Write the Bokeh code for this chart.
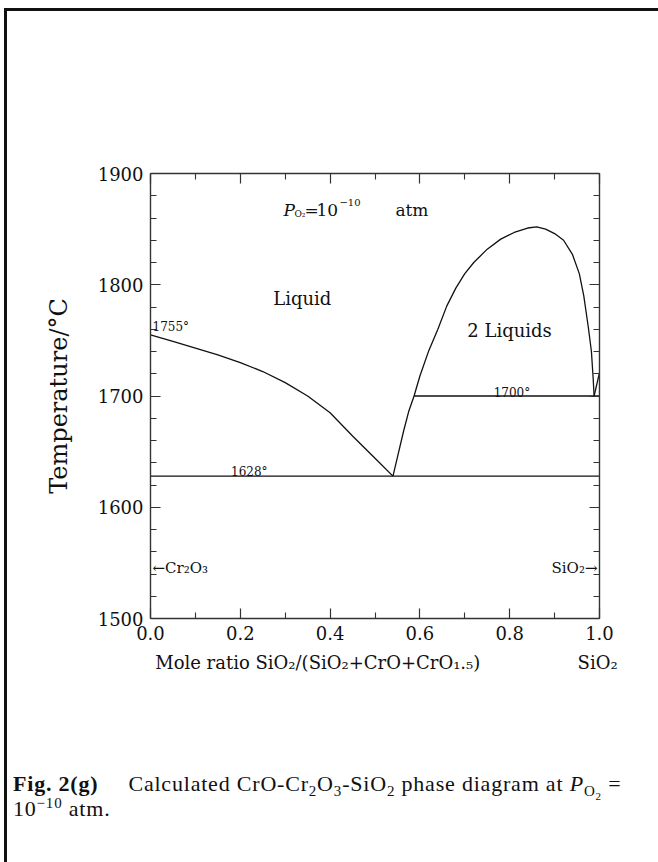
from bokeh.plotting import figure
from bokeh.models import LinearAxis, Label, FixedTicker, Range1d, Div
from bokeh.layouts import column
from bokeh.embed import file_html
from bokeh.resources import INLINE

# ---------------- data ----------------
cr2o3_liquidus_x = [0.00, 0.05, 0.10, 0.15, 0.20, 0.25, 0.30, 0.35, 0.40, 0.45, 0.50, 0.54]
cr2o3_liquidus_t = [1755, 1749, 1743, 1737, 1730, 1722, 1712, 1700, 1685, 1664, 1644, 1628]

sio2_liquidus_x = [0.540, 0.550, 0.564, 0.575, 0.587]
sio2_liquidus_t = [1628, 1645, 1669, 1686, 1700]

gap_x = [0.587, 0.600, 0.620, 0.640, 0.660, 0.680, 0.700, 0.720, 0.750, 0.780, 0.810,
         0.840, 0.860, 0.880, 0.900, 0.920, 0.940, 0.955, 0.965, 0.975, 0.982, 0.986, 0.988]
gap_t = [1700, 1718, 1741, 1760, 1781, 1797, 1810, 1820, 1832, 1841, 1847,
         1851, 1852, 1850, 1846, 1840, 1827, 1810, 1790, 1762, 1740, 1715, 1700]

sio2_upper_x = [0.988, 1.000]
sio2_upper_t = [1700, 1721]

eutectic_x = [0.0, 1.0]
eutectic_t = [1628, 1628]
monotectic_x = [0.587, 1.0]
monotectic_t = [1700, 1700]

x_major = [0.0, 0.2, 0.4, 0.6, 0.8, 1.0]
x_minor = [0.1, 0.3, 0.5, 0.7, 0.9]
x_labels = ["0.0", "0.2", "0.4", "0.6", "0.8", "1.0"]
y_major = [1500, 1600, 1700, 1800, 1900]
y_minor = [1520, 1540, 1560, 1580, 1620, 1640, 1660, 1680, 1720, 1740,
           1760, 1780, 1820, 1840, 1860, 1880]
y_labels = ["1500", "1600", "1700", "1800", "1900"]

SERIF = "DejaVu Serif"
INK = "#111111"
NB = "\u00a0"

p = figure(width=651, height=671, output_backend="svg", toolbar_location=None,
           x_range=Range1d(0, 1), y_range=Range1d(1500, 1900),
           min_border_left=143, min_border_right=59,
           min_border_top=162, min_border_bottom=64)
p.grid.visible = False
p.outline_line_color = None


def style_axis(ax, ticks, minor, labels, show_labels):
    ax.ticker = FixedTicker(ticks=ticks, minor_ticks=minor)
    ax.major_tick_in = 10
    ax.major_tick_out = 0
    ax.minor_tick_in = 6
    ax.minor_tick_out = 0
    ax.axis_line_color = "#333333"
    ax.axis_line_width = 1.4
    ax.major_tick_line_color = "#333333"
    ax.minor_tick_line_color = "#333333"
    ax.major_tick_line_width = 1.2
    ax.minor_tick_line_width = 1.1
    if show_labels:
        ax.major_label_overrides = dict(zip(ticks, labels))
        ax.major_label_text_font = SERIF
        ax.major_label_text_font_size = "18px"
        ax.major_label_text_color = INK
    else:
        ax.major_label_overrides = {t: "" for t in ticks}


style_axis(p.xaxis[0], x_major, x_minor, x_labels, True)
p.xaxis[0].major_label_standoff = 7
p.xaxis[0].axis_label = (NB * 4 + "Mole ratio SiO₂/(SiO₂+CrO+CrO₁.₅)" + NB * 17 + "SiO₂")
p.xaxis[0].axis_label_text_font = SERIF
p.xaxis[0].axis_label_text_font_style = "normal"
p.xaxis[0].axis_label_text_font_size = "18px"
p.xaxis[0].axis_label_text_color = INK
p.xaxis[0].axis_label_standoff = 9

style_axis(p.yaxis[0], y_major, y_minor, y_labels, True)
p.yaxis[0].major_label_standoff = 7
p.yaxis[0].axis_label = "Temperature/°C"
p.yaxis[0].axis_label_text_font = SERIF
p.yaxis[0].axis_label_text_font_style = "normal"
p.yaxis[0].axis_label_text_font_size = "24px"
p.yaxis[0].axis_label_text_color = INK
p.yaxis[0].axis_label_standoff = 22

top_ax = LinearAxis()
style_axis(top_ax, x_major, x_minor, x_labels, False)
p.add_layout(top_ax, "above")
right_ax = LinearAxis()
style_axis(right_ax, y_major, y_minor, y_labels, False)
p.add_layout(right_ax, "right")

# ---------------- phase boundaries ----------------
lw = 1.3
p.line(cr2o3_liquidus_x, cr2o3_liquidus_t, line_color=INK, line_width=lw)
p.line(sio2_liquidus_x, sio2_liquidus_t, line_color=INK, line_width=lw)
p.line(gap_x, gap_t, line_color=INK, line_width=lw)
p.line(sio2_upper_x, sio2_upper_t, line_color=INK, line_width=lw)
p.line(eutectic_x, eutectic_t, line_color=INK, line_width=lw)
p.line(monotectic_x, monotectic_t, line_color=INK, line_width=lw)


def lab(fig, text, x, y, xo=0, yo=0, font=SERIF, size="16px", align="left",
        baseline="alphabetic", style="normal"):
    fig.add_layout(Label(x=x, y=y, x_offset=xo, y_offset=yo, text=text,
                         text_font=font, text_font_size=size, text_align=align,
                         text_baseline=baseline, text_font_style=style,
                         text_color=INK))


# in-plot annotations
lab(p, "1755°", 0.0, 1755, xo=2, yo=8, size="12px")
lab(p, "1628°", 0.22, 1628, yo=4, size="12px", align="center")
lab(p, "1700°", 0.805, 1700, yo=3, size="12px", align="center")
lab(p, "Liquid", 0.338, 1788, size="18px", align="center", baseline="middle")
lab(p, "2  Liquids", 0.806, 1759, size="18px", align="center", baseline="middle")
lab(p, "←Cr₂O₃", 0.0, 1545, xo=2, size="15px", baseline="middle")
lab(p, "SiO₂→", 1.0, 1545, xo=-2, size="15px", align="right", baseline="middle")

# P_O2 = 10^-10 atm
px, pt = 0.296, 1867
lab(p, "P", px, pt, size="17px", style="italic")
lab(p, "O₂", px, pt, xo=11, yo=-4, size="9px")
lab(p, "=", px, pt, xo=21, size="17px")
lab(p, "10", px, pt, xo=33, size="17px")
lab(p, "−10", px, pt, xo=56, yo=8, size="10px")
lab(p, "atm", px, pt, xo=112, size="17px")

# ---------------- caption (HTML strip below the chart) ----------------
sub = 'style="font-size:15px;line-height:0"'
sub2 = 'style="font-size:11px;line-height:0"'
caption_html = (
    '<div style="padding:84px 0 0 1px;font-family:\'Liberation Serif\',serif;'
    'font-size:22px;line-height:25px;letter-spacing:0.8px;color:#111;white-space:nowrap">'
    '<b>Fig. 2(g)</b><span style="margin-left:30px">Calculated CrO-Cr'
    f'<sub {sub}>2</sub>O<sub {sub}>3</sub>-SiO<sub {sub}>2</sub> phase diagram at '
    f'<i>P</i><sub {sub}>O<sub {sub2}>2</sub></sub> =</span><br>'
    f'10<sup {sub}>−10</sup> atm.</div>'
)
cap = Div(text=caption_html, width=651, height=180)

layout = column(p, cap, spacing=0,
                styles={"margin-left": "4px", "margin-top": "8px",
                        "border-left": "3px solid #111", "border-top": "3px solid #111"})
open("out.html", "w").write(file_html(layout, INLINE))
